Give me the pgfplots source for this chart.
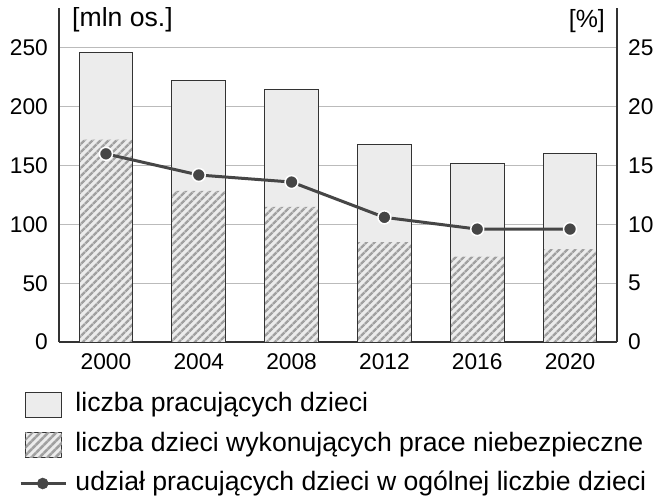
\documentclass[border=0pt]{standalone}
\usepackage{pgfplots}
\pgfplotsset{compat=1.18}
\usepackage{fontspec}
\setmainfont{Liberation Sans}
\usetikzlibrary{patterns.meta}
\definecolor{barfill}{HTML}{ECECEC}
\definecolor{axcol}{HTML}{333333}
\definecolor{hatchc}{HTML}{A0A0A0}
\definecolor{linec}{HTML}{464646}
\definecolor{gridc}{HTML}{BBBBBB}
\pgfplotsset{
  boxlegend/.style={legend image code/.code={\draw[##1] (-18bp,-12.5bp) rectangle (18bp,12.5bp);}},
  hatchlegend/.style={legend image code/.code={\draw[fill=barfill, draw=axcol, line width=1bp, postaction={pattern={Lines[angle=45,distance=6bp,line width=2.9bp]}, pattern color=hatchc}] (-18bp,-12.5bp) rectangle (18bp,12.5bp);}},
  linelegend/.style={legend image code/.code={\draw[##1, mark=none] (-23bp,0) -- (22bp,0); \draw[##1] plot coordinates {(-1bp,0)};}},
}
\begin{document}
\begin{tikzpicture}[font=\fontsize{26.7}{32}\selectfont]
\pgfplotsset{
  common/.style={
    scale only axis, width=558bp, height=334bp,
    xmin=-0.506, xmax=5.506, ymin=0,
    /pgf/number format/assume math mode=true,
    major tick length=0pt,
    axis line style={axcol, line width=1.3bp},
    tick label style={font=\fontsize{22.8}{27}\selectfont, inner sep=0pt},
  },
}
\begin{axis}[common,
  ymax=284,
  axis x line*=bottom, axis y line*=left,
  xtick={0,1,2,3,4,5},
  xticklabels={2000,2004,2008,2012,2016,2020},
  ytick={0,50,100,150,200,250},
  yticklabel style={xshift=-11bp},
  xticklabel style={yshift=-11bp},
  ymajorgrids, grid style={gridc, line width=1bp},
  legend style={draw=none, fill=none, at={(axis description cs:-0.0717,-0.1497)}, anchor=north west,
     inner sep=0pt, outer sep=0pt, row sep=13.5bp, column sep=8bp,
     nodes={inner sep=0pt, text height=19bp, text depth=6bp}},
  legend cell align=left,
]
\addplot[ybar, bar width=0.58, bar shift=0pt, fill=barfill, draw=axcol, line width=1bp,
  area legend, boxlegend]
  coordinates {(0,246) (1,222.5) (2,215) (3,168) (4,151.5) (5,160)};
\addlegendentry{liczba pracujących dzieci}
\addplot[ybar, bar width=0.575, bar shift=0pt, fill=barfill, draw=none,
  postaction={pattern={Lines[angle=45,distance=6bp,line width=2.9bp]}, pattern color=hatchc},
  area legend, hatchlegend]
  coordinates {(0,172) (1,128.5) (2,115) (3,85) (4,72.6) (5,79)};
\addlegendentry{liczba dzieci wykonujących prace niebezpieczne}
\addplot[ybar, bar width=0.58, bar shift=0pt, fill=none, draw=axcol, line width=1bp, forget plot]
  coordinates {(0,246) (1,222.5) (2,215) (3,168) (4,151.5) (5,160)};
\addlegendimage{linec, line width=3.5bp, mark=*, mark size=5.5bp, mark options={fill=linec, draw=linec, line width=0.5bp}, linelegend}
\addlegendentry{udział pracujących dzieci w ogólnej liczbie dzieci}
\node[anchor=west, inner sep=0pt] at (axis description cs:0.0233,0.964) {[mln os.]};
\end{axis}
\begin{axis}[common,
  ymax=28.4,
  axis x line=none, axis y line*=right,
  ytick={0,5,10,15,20,25},
  yticklabel style={xshift=11bp},
]
\addplot[linec, line width=3bp, mark=*, mark size=6.5bp, mark options={fill=linec, draw=white, line width=1.5bp}]
  coordinates {(0,16.0) (1,14.2) (2,13.6) (3,10.6) (4,9.6) (5,9.6)};
\node[anchor=east, inner sep=0pt, font=\fontsize{25}{30}\selectfont] at (axis description cs:0.9785,0.961) {[\%]};
\end{axis}
\pgfresetboundingbox
\path[use as bounding box] (current axis.south west) ++(-59bp,-161bp) rectangle ++(662bp,503bp);
\end{tikzpicture}
\end{document}
